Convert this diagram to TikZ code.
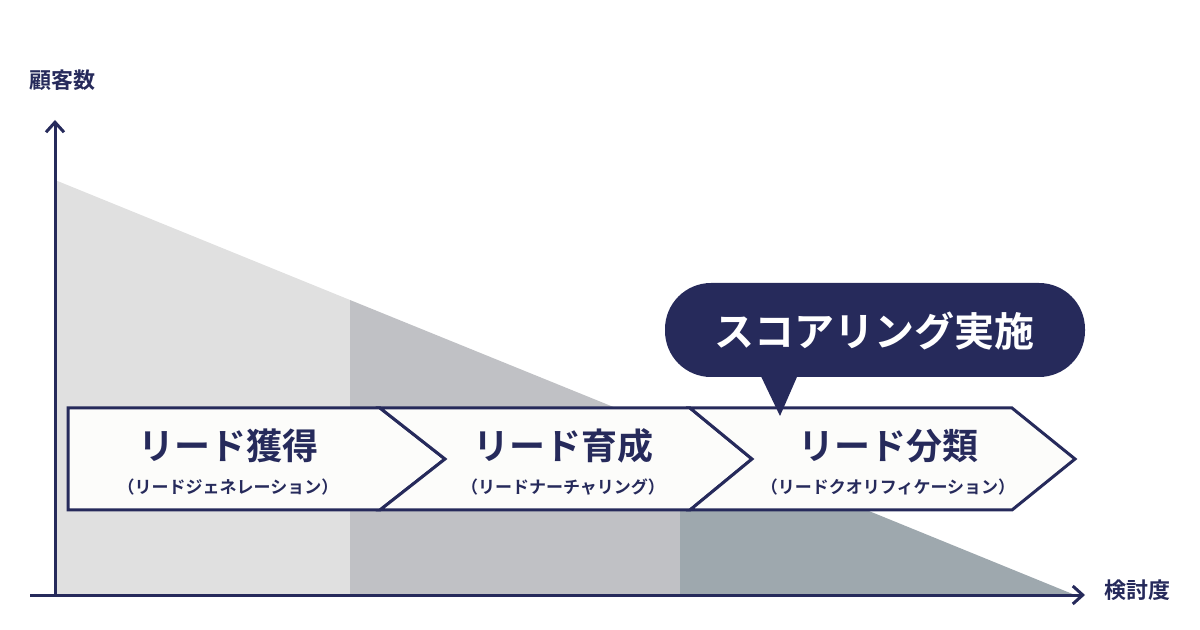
\documentclass[tikz,border=0pt]{standalone}
\usepackage{fontspec}
\usetikzlibrary{arrows.meta}
\newfontfamily\jp{Noto Sans CJK JP}[BoldFont={* Bold}]
\definecolor{navy}{HTML}{262A5B}
\definecolor{grayA}{HTML}{E0E0E0}
\definecolor{grayB}{HTML}{C0C1C5}
\definecolor{grayC}{HTML}{9EA8AE}
\definecolor{paper}{HTML}{FCFCFA}
\begin{document}
\begin{tikzpicture}[x=0.5pt,y=-0.5pt,font=\jp\bfseries,
  stage/.style={draw=navy,line width=1.5pt,fill=paper,line join=miter},
  title/.style={text=navy,font=\jp\bfseries\fontsize{18}{20}\selectfont},
  sub/.style={text=navy,font=\jp\bfseries\fontsize{8.5}{10}\selectfont},
  axislabel/.style={text=navy,font=\jp\bfseries\fontsize{11}{13}\selectfont}]
\useasboundingbox (0,0) rectangle (1200,630);
\def\ytop{408};
\def\ybot{510};
\def\ymid{459};

% gray areas under the line
\fill[grayA] (55,180) -- (350,300) -- (350,595) -- (55,595) -- cycle;
\fill[grayB] (350,300) -- (680,434) -- (680,595) -- (350,595) -- cycle;
\fill[grayC] (680,434) -- (1075,595) -- (680,595) -- cycle;

% axes
\coordinate (O) at (55,595);
\coordinate (Ytip) at (55,120);
\coordinate (Xstart) at (30,595);
\coordinate (Xtip) at (1085,595);
\draw[navy,line width=1.5pt,-{Straight Barb[length=5pt,width=9pt]}] (O) -- (Ytip);
\draw[navy,line width=1.5pt,-{Straight Barb[length=5pt,width=9pt]}] (Xstart) -- (Xtip);
\node[axislabel] (ylab) at (62,80) {顧客数};
\node[axislabel] (xlab) at (1137,590) {検討度};

% stages
\draw[stage] (68,\ytop) -- (380,\ytop) -- (445,\ymid) -- (380,\ybot) -- (68,\ybot) -- cycle;
\draw[stage] (380,\ytop) -- (690,\ytop) -- (752,\ymid) -- (690,\ybot) -- (380,\ybot) -- (445,\ymid) -- cycle;
\draw[stage] (690,\ytop) -- (1012,\ytop) -- (1075,\ymid) -- (1012,\ybot) -- (690,\ybot) -- (752,\ymid) -- cycle;

\node[title] (gen) at (228,446) {リード獲得};
\node[sub] (gensub) at (228,487) {（リードジェネレーション）};
\node[title] (nur) at (563,446) {リード育成};
\node[sub] (nursub) at (563,487) {（リードナーチャリング）};
\node[title] (qua) at (888,446) {リード分類};
\node[sub] (quasub) at (888,487) {（リードクオリフィケーション）};

% bubble
\fill[navy,rounded corners=23pt] (665,283) rectangle (1085,377);
\fill[navy] (758,370) -- (780,416) -- (800,370) -- cycle;
\node[text=white,font=\jp\bfseries\fontsize{20}{22}\selectfont] (score) at (874,331) {スコアリング実施};
\end{tikzpicture}
\end{document}
